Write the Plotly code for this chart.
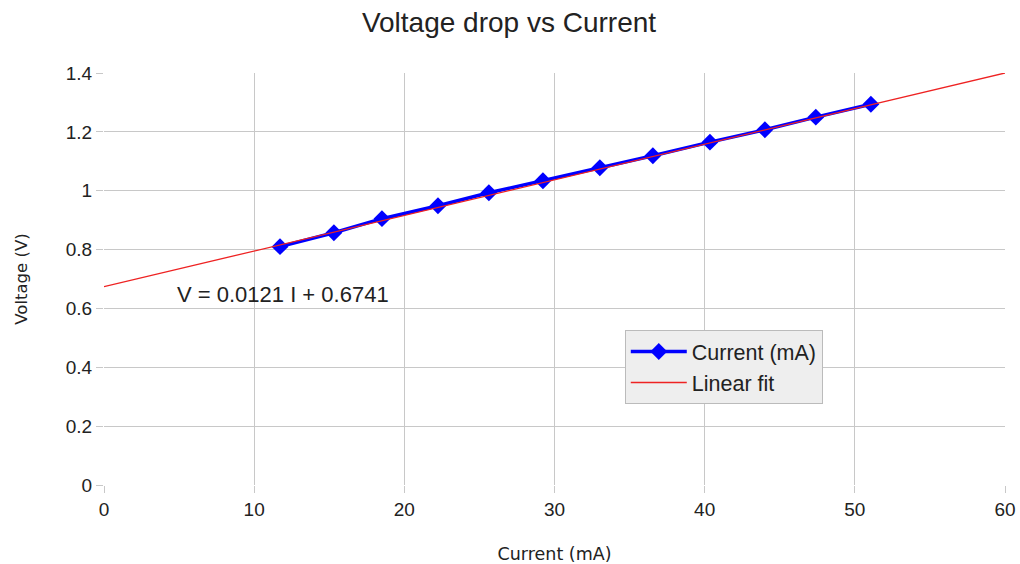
import plotly.graph_objects as go

current_mA = [11.72, 15.31, 18.51, 22.24, 25.63, 29.23, 33.02, 36.55, 40.35, 44.01, 47.40, 51.07]
voltage_V = [0.810, 0.857, 0.905, 0.949, 0.993, 1.034, 1.078, 1.119, 1.165, 1.207, 1.250, 1.294]
fit_slope = 0.0121
fit_intercept = 0.6741
fit_x = [0, 60]
fit_y = [fit_intercept + fit_slope * x for x in fit_x]

fig = go.Figure()
fig.add_trace(go.Scatter(x=current_mA, y=voltage_V, mode="lines+markers", name="Current (mA)",
                         line=dict(color="#0000ff", width=3.5),
                         marker=dict(symbol="diamond", size=13, color="#0000ff")))
fig.add_trace(go.Scatter(x=fit_x, y=fit_y, mode="lines", name="Linear fit",
                         line=dict(color="#ee2222", width=1.3)))

fig.add_annotation(x=4.7, y=0.646, xref="x", yref="y", text="V = 0.0121 I + 0.6741",
                   showarrow=False, xanchor="left", yanchor="middle",
                   font=dict(size=22, color="#222222"))

axis_common = dict(showgrid=True, gridcolor="#c8c8c8", gridwidth=1, zeroline=False,
                   ticks="outside", ticklen=7, tickcolor="#c8c8c8", showline=False,
                   automargin=False, tickfont=dict(size=19, color="#222222"))

fig.update_layout(
    width=1020, height=564,
    margin=dict(l=104, r=15, t=73, b=79),
    paper_bgcolor="white", plot_bgcolor="white",
    font=dict(family="Liberation Sans, Arial, sans-serif", color="#222222"),
    title=dict(text="Voltage drop vs Current", x=0.499, xref="container", xanchor="center",
               y=0.961, yanchor="middle", font=dict(size=28, color="#222222")),
    xaxis=dict(range=[0, 60], dtick=10,
               title=dict(text="Current (mA)", font=dict(size=17.5, family="DejaVu Sans"), standoff=28),
               **axis_common),
    yaxis=dict(range=[0, 1.4], dtick=0.2,
               title=dict(text="Voltage (V)", font=dict(size=16.5, family="DejaVu Sans"), standoff=34),
               **axis_common),
    legend=dict(x=0.578, y=0.376, xanchor="left", yanchor="top", bgcolor="#eeeeee",
                bordercolor="#bbbbbb", borderwidth=1, font=dict(size=21.5, color="#222222"),
                tracegroupgap=0, itemwidth=56),
    showlegend=True,
)

fig.write_html("out.html", config={"displayModeBar": False},
               post_script="document.body.style.margin='0px';document.body.style.overflow='hidden';")
